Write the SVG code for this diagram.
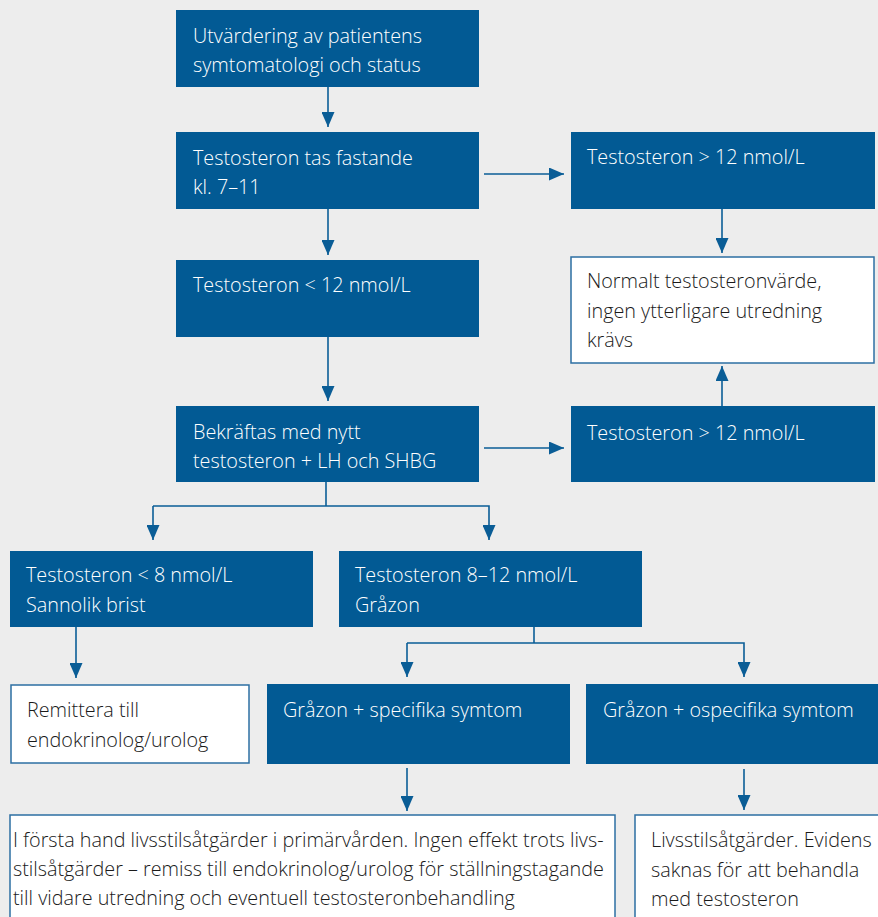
<svg xmlns="http://www.w3.org/2000/svg" width="878" height="917" viewBox="0 0 878 917">
<style>
.bg{fill:#ededed}
.b{fill:#025a94}
.w{fill:#ffffff;stroke:#2d6fa3;stroke-width:1.5}
.tw{fill:#ffffff;font-family:"Open Sans","Liberation Sans",sans-serif;font-size:19.8px;font-weight:300}
.tk{fill:#1a1a1a;font-family:"Open Sans","Liberation Sans",sans-serif;font-size:19.8px;font-weight:300}
.c{fill:none;stroke:#0a5d96;stroke-width:1.6}
</style>
<defs>
<marker id="ah" markerUnits="userSpaceOnUse" markerWidth="15" markerHeight="13" refX="15" refY="6.5" orient="auto">
<path d="M0,0 L15,6.5 L0,13 z" fill="#0a5d96"/>
</marker>
</defs>
<rect class="bg" x="0" y="0" width="878" height="917"/>
<g id="connectors">
<line class="c" x1="328" y1="87" x2="328" y2="127" marker-end="url(#ah)"/>
<line class="c" x1="328" y1="209" x2="328" y2="255" marker-end="url(#ah)"/>
<line class="c" x1="328" y1="337" x2="328" y2="401" marker-end="url(#ah)"/>
<line class="c" x1="484" y1="174" x2="564" y2="174" marker-end="url(#ah)"/>
<line class="c" x1="722" y1="209" x2="722" y2="253" marker-end="url(#ah)"/>
<line class="c" x1="722" y1="406" x2="722" y2="366" marker-end="url(#ah)"/>
<line class="c" x1="484" y1="448" x2="564" y2="448" marker-end="url(#ah)"/>
<polyline class="c" points="326,482 326,506"/>
<polyline class="c" points="153,506 489,506 489,540" marker-end="url(#ah)"/>
<line class="c" x1="153" y1="506" x2="153" y2="540" marker-end="url(#ah)"/>
<line class="c" x1="76" y1="627" x2="76" y2="678" marker-end="url(#ah)"/>
<polyline class="c" points="534,627 534,643"/>
<polyline class="c" points="407,643 744,643 744,677" marker-end="url(#ah)"/>
<line class="c" x1="407" y1="643" x2="407" y2="677" marker-end="url(#ah)"/>
<line class="c" x1="407" y1="768" x2="407" y2="811" marker-end="url(#ah)"/>
<line class="c" x1="744" y1="769" x2="744" y2="810" marker-end="url(#ah)"/>
</g>
<g id="n1"><rect class="b" x="176" y="10" width="303" height="77"/>
<text class="tw" x="193" y="43">Utvärdering av patientens</text>
<text class="tw" x="193" y="72">symtomatologi och status</text></g>
<g id="n2"><rect class="b" x="176" y="132" width="303" height="77"/>
<text class="tw" x="193" y="165">Testosteron tas fastande</text>
<text class="tw" x="193" y="194">kl. 7–11</text></g>
<g id="n3"><rect class="b" x="176" y="260" width="303" height="77"/>
<text class="tw" x="193" y="292">Testosteron &lt; 12 nmol/L</text></g>
<g id="n4"><rect class="b" x="176" y="406" width="303" height="76"/>
<text class="tw" x="193" y="439">Bekräftas med nytt</text>
<text class="tw" x="193" y="468">testosteron + LH och SHBG</text></g>
<g id="n5"><rect class="b" x="571" y="132" width="304" height="77"/>
<text class="tw" x="587" y="164">Testosteron &gt; 12 nmol/L</text></g>
<g id="n6"><rect class="w" x="571" y="257" width="303" height="106"/>
<text class="tk" x="587" y="288">Normalt testosteronvärde,</text>
<text class="tk" x="587" y="318">ingen ytterligare utredning</text>
<text class="tk" x="587" y="347">krävs</text></g>
<g id="n7"><rect class="b" x="571" y="406" width="304" height="76"/>
<text class="tw" x="587" y="440">Testosteron &gt; 12 nmol/L</text></g>
<g id="n8"><rect class="b" x="10" y="551" width="303" height="76"/>
<text class="tw" x="26" y="582">Testosteron &lt; 8 nmol/L</text>
<text class="tw" x="26" y="612">Sannolik brist</text></g>
<g id="n9"><rect class="b" x="339" y="551" width="303" height="76"/>
<text class="tw" x="355" y="582">Testosteron 8–12 nmol/L</text>
<text class="tw" x="355" y="612">Gråzon</text></g>
<g id="n10"><rect class="w" x="11" y="685" width="238" height="78"/>
<text class="tk" x="27" y="717">Remittera till</text>
<text class="tk" x="27" y="747">endokrinolog/urolog</text></g>
<g id="n11"><rect class="b" x="267" y="684" width="303" height="80"/>
<text class="tw" x="283" y="717">Gråzon + specifika symtom</text></g>
<g id="n12"><rect class="b" x="586" y="684" width="300" height="80"/>
<text class="tw" x="603" y="717">Gråzon + ospecifika symtom</text></g>
<g id="n13"><rect class="w" x="10" y="815" width="605" height="110"/>
<text class="tk" x="13" y="847">I första hand livsstilsåtgärder i primärvården. Ingen effekt trots livs-</text>
<text class="tk" x="13" y="876">stilsåtgärder – remiss till endokrinolog/urolog för ställningstagande</text>
<text class="tk" x="13" y="905">till vidare utredning och eventuell testosteronbehandling</text></g>
<g id="n14"><rect class="w" x="635" y="815" width="260" height="110"/>
<text class="tk" x="651" y="847">Livsstilsåtgärder. Evidens</text>
<text class="tk" x="651" y="877">saknas för att behandla</text>
<text class="tk" x="651" y="906">med testosteron</text></g>
</svg>
